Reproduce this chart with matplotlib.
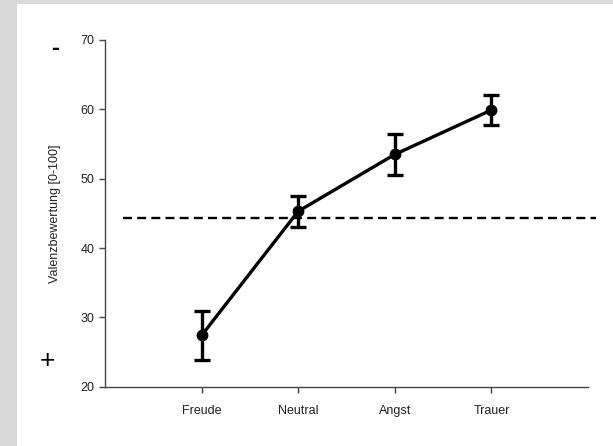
import matplotlib
matplotlib.use("Agg")
import matplotlib.pyplot as plt
from matplotlib.patches import Rectangle

plt.rcParams['font.family'] = ['Liberation Sans', 'DejaVu Sans']

categories = ["Freude", "Neutral", "Angst", "Trauer"]
means = [27.4, 45.3, 53.5, 59.9]
errors = [3.5, 2.2, 2.95, 2.1]
reference_value = 44.3
y_ticks = [20, 30, 40, 50, 60, 70]
y_label = "Valenzbewertung [0-100]"

fig = plt.figure(figsize=(6.13, 4.46), dpi=100)
fig.patch.set_facecolor("white")
# light grey frame on left and top
fig.patches.append(Rectangle((0, 0), 17/613, 1, transform=fig.transFigure,
                             facecolor="#d9d9d9", edgecolor="none", zorder=0))
fig.patches.append(Rectangle((0, 1-4/446), 1, 4/446, transform=fig.transFigure,
                             facecolor="#d9d9d9", edgecolor="none", zorder=0))

ax = fig.add_axes([105/613, 1-386.7/446, (588-105)/613, (386.7-40)/446])
x = list(range(1, len(categories)+1))

ax.errorbar(x, means, yerr=errors, color="black", lw=2.4, marker="o",
            markersize=7.5, capsize=5.5, capthick=2.4, elinewidth=2.4, zorder=3)

ax.plot([0.19, 5.08], [reference_value, reference_value], color="black",
        lw=1.7, dashes=(3.8, 2.2), clip_on=False, zorder=2)

ax.set_xlim(0, 5)
ax.set_ylim(20, 70)
ax.set_xticks(x)
ax.set_xticklabels(categories, fontsize=9, color="#222222")
ax.set_yticks(y_ticks)
ax.set_yticklabels([str(v) for v in y_ticks], fontsize=9, color="#222222")
ax.spines["top"].set_visible(False)
ax.spines["right"].set_visible(False)
for s in ("left", "bottom"):
    ax.spines[s].set_color("#444444")
    ax.spines[s].set_linewidth(1.0)
ax.tick_params(axis="both", direction="out", length=4.5, width=1.0, color="#444444")
ax.tick_params(axis="x", pad=9)
ax.tick_params(axis="y", pad=3)
ax.set_ylabel(y_label, fontsize=9, color="#222222", labelpad=14)

fig.text(55/613, 1-49/446, "-", fontsize=17, fontweight="bold", ha="center", va="center")
fig.text(47/613, 1-361/446, "+", fontsize=19, ha="center", va="center")

fig.savefig("out.png", dpi=100)
